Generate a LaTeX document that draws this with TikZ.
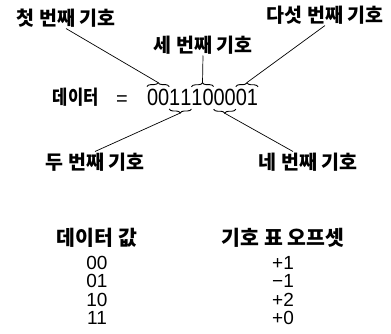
\documentclass[tikz,border=0pt]{standalone}
\usepackage{fontspec}
\setmainfont{Liberation Sans}
\newfontfamily\kr{Noto Sans CJK KR}
\newfontfamily\krnarrow{Noto Sans CJK KR}[FakeStretch=0.85]
\newfontfamily\narrowdig{Liberation Sans}[FakeStretch=0.85]
\usetikzlibrary{decorations.pathreplacing}

\tikzset{
  lbl/.style={font=\kr\bfseries\fontsize{19.5}{21}\selectfont, inner sep=1pt},
  digit/.style={font=\narrowdig\fontsize{23.5}{25}\selectfont, inner sep=0pt, outer sep=0pt, anchor=base west},
  brc/.style={decorate, decoration={brace, amplitude=4pt}, line width=0.9pt},
  cell/.style={font=\fontsize{19}{21}\selectfont, inner sep=0pt, anchor=base},
  head/.style={font=\kr\bfseries\fontsize{20.5}{22}\selectfont, inner sep=0pt, anchor=base},
}

\begin{document}
\begin{tikzpicture}[x=1pt, y=-1pt, line width=0.7pt]
\useasboundingbox (0,0) rectangle (391,334);

% the data bits
\foreach \d [count=\i] in {0,0,1,1,1,0,0,0,0,1}
  \node[digit] (d\i) at ({147+11.1*(\i-1)},106) {\d};
\node[anchor=base, inner sep=0pt, font=\fontsize{20}{22}\selectfont] (eq) at (122,106) {=};
\node[anchor=base east, inner sep=0pt, font=\krnarrow\bfseries\fontsize{19.5}{21}\selectfont] (lhs) at (99,105) {데이터};

% braces over / under the pairs
\draw[brc] ([yshift=3pt]d1.north west) -- ([yshift=3pt]d2.north east);
\draw[brc] ([yshift=3pt]d5.north west) -- ([yshift=3pt]d6.north east);
\draw[brc] ([yshift=3pt]d9.north west) -- ([yshift=3pt]d10.north east);
\draw[brc] ([yshift=-3pt]d4.south east) -- ([yshift=-3pt]d3.south west);
\draw[brc] ([yshift=-3pt]d8.south east) -- ([yshift=-3pt]d7.south west);
\coordinate (t1) at ([yshift=7pt]d1.north east);
\coordinate (t3) at ([yshift=7pt]d5.north east);
\coordinate (t5) at ([yshift=7pt]d9.north east);
\coordinate (t2) at ([yshift=-7pt]d3.south east);
\coordinate (t4) at ([yshift=-7pt]d7.south east);

% labels
\node[lbl] (l1) at (66,18) {첫 번째 기호};
\node[lbl] (l3) at (203,45) {세 번째 기호};
\node[lbl] (l5) at (325,15) {다섯 번째 기호};
\node[lbl] (l2) at (95,162) {두 번째 기호};
\node[lbl] (l4) at (308,162) {네 번째 기호};

\draw (l1.south) -- (t1);
\draw (l3.south) -- (t3);
\draw (l5.south) -- (t5);
\draw (l2.north) -- (t2);
\draw ([xshift=-15pt]l4.north) -- (t4);

% table
\node[head] (h1) at (97,245) {데이터 값};
\node[head] (h2) at (283,245) {기호 표 오프셋};
\foreach \a/\b [count=\i] in {00/+1, 01/−1, 10/+2, 11/+0} {
  \node[cell] (a\i) at (97,{269+18.5*(\i-1)}) {\a};
  \node[cell] (b\i) at (283,{269+18.5*(\i-1)}) {\b};
}
\end{tikzpicture}
\end{document}
